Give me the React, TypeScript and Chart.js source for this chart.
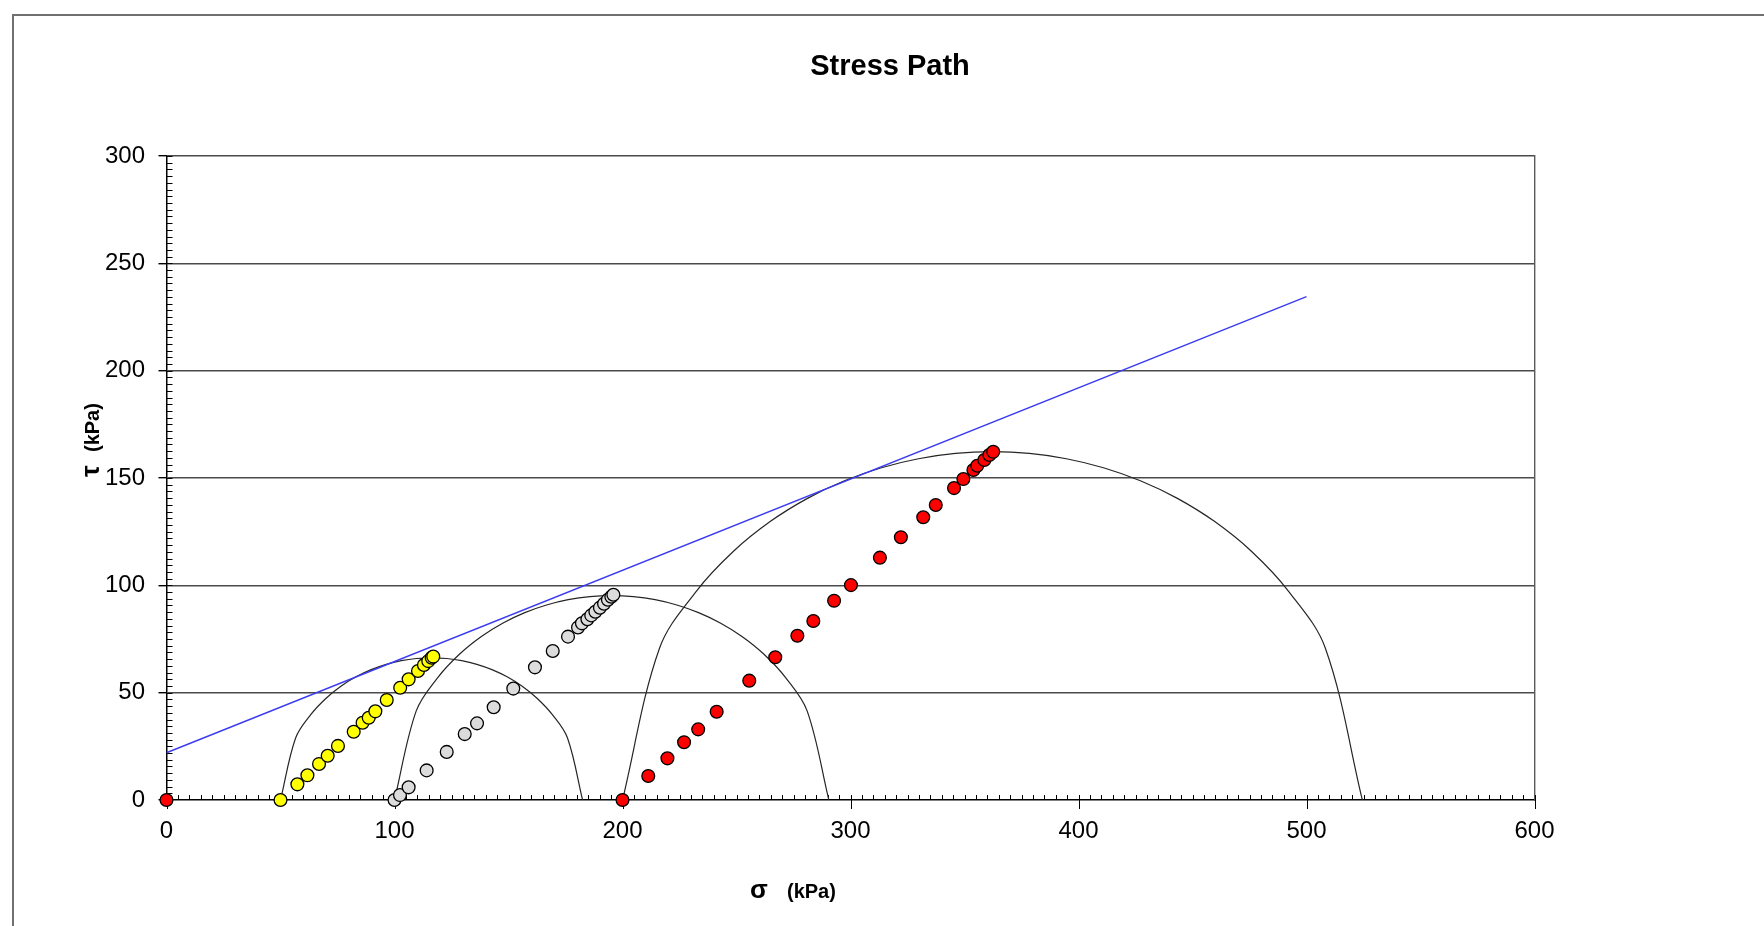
import React, { useEffect, useRef } from 'react';
import { Chart, registerables } from 'chart.js';

Chart.register(...registerables);

// ---- axis ticks ----
const X_TICKS = [0, 100, 200, 300, 400, 500, 600];
const Y_TICKS = [0, 50, 100, 150, 200, 250, 300];
const X_MINOR_STEP = 5;
const Y_MINOR_STEP = 3.125;

// ---- stress paths (σ, τ) in kPa ----
const yellowSigma = [50, 57.4, 61.8, 66.9, 70.7, 75.2, 82.1, 86.0, 88.7, 91.6, 96.6, 102.5, 106.2, 110.3, 112.9, 114.8, 116.3, 117.0];
const yellowTau = [0, 7.3, 11.5, 16.8, 20.6, 25.2, 31.8, 36.0, 38.3, 41.3, 46.6, 52.3, 56.2, 60.1, 62.9, 64.7, 66.3, 66.8];

const greySigma = [100, 102.4, 106.2, 114.1, 122.9, 130.8, 136.2, 143.5, 152.1, 161.6, 169.4, 176.1, 180.5, 182.2, 184.6, 186.3, 188.1, 190.1, 191.9, 193.6, 195.1, 196.0];
const greyTau = [0, 2.3, 5.9, 13.8, 22.4, 30.7, 35.7, 43.2, 51.9, 61.8, 69.4, 76.1, 80.4, 82.3, 84.2, 86.0, 87.7, 89.6, 91.4, 93.3, 94.7, 95.6];

const redSigma = [0, 200, 211.3, 219.7, 227.0, 233.2, 241.3, 255.6, 267.0, 276.7, 283.7, 292.8, 300.2, 312.9, 322.1, 331.9, 337.4, 345.4, 349.5, 353.9, 355.6, 358.7, 360.9, 362.6];
const redTau = [0, 0, 11.2, 19.4, 26.9, 32.9, 41.1, 55.6, 66.5, 76.5, 83.4, 92.8, 100.1, 112.9, 122.4, 131.7, 137.4, 145.3, 149.5, 153.7, 155.7, 158.4, 160.7, 162.2];

// ---- Mohr circles (σ, τ) ----
const yellowCircleSigma = [50, 56.63, 63.25, 69.88, 76.5, 83.13, 89.75, 96.38, 103.0, 109.63, 116.25, 122.88, 129.5, 136.13, 142.75, 149.38, 156.0, 162.63, 169.25, 175.88, 182.5];
const yellowCircleTau = [0, 28.88, 39.75, 47.31, 53.0, 57.37, 60.72, 63.2, 64.91, 65.92, 66.25, 65.92, 64.91, 63.2, 60.72, 57.37, 53.0, 47.31, 39.75, 28.88, 0];

const greyCircleSigma = [100, 109.53, 119.05, 128.58, 138.1, 147.63, 157.15, 166.68, 176.2, 185.73, 195.25, 204.78, 214.3, 223.83, 233.35, 242.88, 252.4, 261.93, 271.45, 280.98, 290.5];
const greyCircleTau = [0, 41.52, 57.15, 68.02, 76.2, 82.49, 87.3, 90.86, 93.33, 94.77, 95.25, 94.77, 93.33, 90.86, 87.3, 82.49, 76.2, 68.02, 57.15, 41.52, 0];

const redCircleSigma = [200, 216.23, 232.45, 248.68, 264.9, 281.13, 297.35, 313.58, 329.8, 346.03, 362.25, 378.48, 394.7, 410.93, 427.15, 443.38, 459.6, 475.83, 492.05, 508.28, 524.5];
const redCircleTau = [0, 70.72, 97.35, 115.87, 129.8, 140.51, 148.71, 154.78, 158.97, 161.44, 162.25, 161.44, 158.97, 154.78, 148.71, 140.51, 129.8, 115.87, 97.35, 70.72, 0];

// ---- failure envelope ----
const envelopeSigma = [0, 500];
const envelopeTau = [22, 234.5];

const FONT = '"Liberation Sans", Arial, sans-serif';

const pts = (xs: number[], ys: number[]) => xs.map((x, i) => ({ x, y: ys[i] }));

const decorations = {
  id: 'decorations',
  beforeDatasetsDraw(chart: any) {
    const { ctx, chartArea, scales } = chart;
    const xs = scales.x;
    const ys = scales.y;
    ctx.save();
    ctx.strokeStyle = '#000';
    ctx.lineWidth = 1;
    ctx.beginPath();
    for (let v = 0; v <= Y_TICKS[Y_TICKS.length - 1] + 1e-6; v += Y_MINOR_STEP) {
      const py = Math.round(ys.getPixelForValue(v)) + 0.5;
      ctx.moveTo(chartArea.left, py);
      ctx.lineTo(chartArea.left + 6, py);
    }
    for (let v = 0; v <= X_TICKS[X_TICKS.length - 1] + 1e-6; v += X_MINOR_STEP) {
      const px = Math.round(xs.getPixelForValue(v)) + 0.5;
      ctx.moveTo(px, chartArea.bottom);
      ctx.lineTo(px, chartArea.bottom - 5);
    }
    for (const v of X_TICKS) {
      const px = Math.round(xs.getPixelForValue(v)) + 0.5;
      ctx.moveTo(px, chartArea.bottom - 5);
      ctx.lineTo(px, chartArea.bottom + 9);
    }
    ctx.stroke();
    ctx.restore();
  },
  afterDraw(chart: any) {
    const { ctx } = chart;
    ctx.save();
    ctx.fillStyle = '#000';
    ctx.textBaseline = 'alphabetic';
    ctx.textAlign = 'left';
    // x-axis title
    ctx.font = `bold 26px ${FONT}`;
    ctx.fillText('σ', 750, 898);
    ctx.font = `bold 20px ${FONT}`;
    ctx.fillText('(kPa)', 787, 898);
    // y-axis title
    ctx.translate(99, 477);
    ctx.rotate(-Math.PI / 2);
    ctx.font = `bold 26px ${FONT}`;
    ctx.fillText('τ', 0, 0);
    ctx.font = `bold 20px ${FONT}`;
    ctx.fillText('(kPa)', 25, 0);
    ctx.restore();
  },
};

export default function App() {
  const ref = useRef<HTMLCanvasElement | null>(null);

  useEffect(() => {
    if (!ref.current) return;
    const circleStyle = {
      showLine: true,
      borderColor: '#262626',
      borderWidth: 1.2,
      pointRadius: 0,
      tension: 0.35,
      fill: false,
      order: 3,
    };
    const pointStyle = (fill: string) => ({
      showLine: false,
      pointRadius: 6.4,
      pointBorderWidth: 1.3,
      pointBorderColor: '#000',
      pointBackgroundColor: fill,
      backgroundColor: fill,
      borderColor: '#000',
      clip: false,
      order: 1,
    });

    const chart = new Chart(ref.current, {
      type: 'scatter',
      data: {
        datasets: [
          { label: 'Envelope', data: pts(envelopeSigma, envelopeTau), showLine: true, borderColor: '#3b3bf2', borderWidth: 1.5, pointRadius: 0, order: 2 } as any,
          { label: 'Circle 1', data: pts(yellowCircleSigma, yellowCircleTau), ...circleStyle } as any,
          { label: 'Circle 2', data: pts(greyCircleSigma, greyCircleTau), ...circleStyle } as any,
          { label: 'Circle 3', data: pts(redCircleSigma, redCircleTau), ...circleStyle } as any,
          { label: 'Path 1', data: pts(yellowSigma, yellowTau), ...pointStyle('#ffff00') } as any,
          { label: 'Path 2', data: pts(greySigma, greyTau), ...pointStyle('#dcdcdc') } as any,
          { label: 'Path 3', data: pts(redSigma, redTau), ...pointStyle('#ff0000') } as any,
        ],
      },
      options: {
        responsive: false,
        animation: false,
        devicePixelRatio: 1,
        layout: { padding: { left: 16, right: 0, top: 0, bottom: 0 } },
        plugins: {
          legend: { display: false },
          tooltip: { enabled: false },
          title: {
            display: true,
            text: 'Stress Path',
            color: '#000',
            font: { family: FONT, size: 29, weight: 'bold', lineHeight: 1.2 },
            padding: { top: 49.3, bottom: 71.9 },
          },
        },
        scales: {
          x: {
            type: 'linear',
            min: 0,
            max: 600,
            afterBuildTicks: (s: any) => { s.ticks = X_TICKS.map((v) => ({ value: v })); },
            afterFit: (s: any) => { s.height = 126; },
            grid: { display: false, drawTicks: false },
            border: { display: true, color: '#000', width: 1.5 },
            ticks: { color: '#000', padding: 17.2, font: { family: FONT, size: 24, lineHeight: 1.2 }, maxRotation: 0 },
          },
          y: {
            type: 'linear',
            position: 'left',
            min: 0,
            max: 300,
            afterBuildTicks: (s: any) => { s.ticks = Y_TICKS.map((v) => ({ value: v })); },
            afterFit: (s: any) => { s.width = 150.5; },
            grid: {
              display: true,
              drawTicks: true,
              tickLength: 8,
              tickColor: '#000',
              lineWidth: 1.4,
              color: (c: any) => (c.tick && c.tick.value === 0 ? 'rgba(0,0,0,0)' : '#4a4a4a'),
            },
            border: { display: true, color: '#000', width: 1.5 },
            ticks: { color: '#000', padding: 13.5, font: { family: FONT, size: 24, lineHeight: 1.2 } },
          },
          y2: {
            type: 'linear',
            position: 'right',
            min: 0,
            max: 300,
            afterFit: (s: any) => { s.width = 229.5; },
            grid: { display: false, drawTicks: false },
            border: { display: true, color: '#5a5a5a', width: 1.4 },
            ticks: { display: false },
          },
        },
      },
      plugins: [decorations],
    } as any);

    return () => chart.destroy();
  }, []);

  return (
    <div style={{ position: 'absolute', left: 0, top: 0, width: 1764, height: 926, overflow: 'hidden', background: '#fff' }}>
      <div
        style={{
          position: 'absolute',
          left: 12,
          top: 14,
          width: 1800,
          height: 1000,
          border: '2px solid #707070',
          boxSizing: 'border-box',
        }}
      />
      <canvas ref={ref} width={1764} height={926} style={{ position: 'absolute', left: 0, top: 0, width: 1764, height: 926 }} />
    </div>
  );
}
